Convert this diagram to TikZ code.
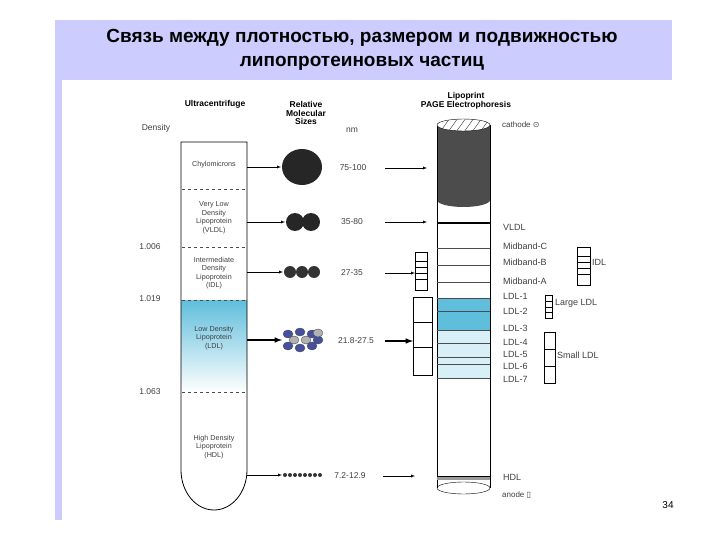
\documentclass[tikz,border=0pt]{standalone}
\usepackage{fontspec}
\setmainfont{Liberation Sans}
\newfontfamily\symfont{DejaVu Sans}
\begin{document}
\begin{tikzpicture}[x=1pt,y=-1pt,
 lbl/.style={font=\fontsize{7}{8}\selectfont,text=black!75,inner sep=0pt},
 tl/.style={font=\fontsize{7.2}{8.5}\selectfont,text=black!75,inner sep=0pt,align=center},
 rl/.style={font=\fontsize{9}{10}\selectfont,text=black!75,inner sep=0pt,anchor=west},
 nl/.style={font=\fontsize{8.5}{9}\selectfont,text=black!75,inner sep=0pt},
 hdr/.style={font=\bfseries\fontsize{8.5}{8.5}\selectfont,align=center,inner sep=0pt},
 arr/.style={->,>=latex,thin},
 band/.style={black!70,thin},
 dline/.style={dashed,thick,black!70}]
\definecolor{lav}{RGB}{204,204,255}
\definecolor{ldlblue}{RGB}{95,190,220}
\definecolor{ldllight}{RGB}{215,240,248}
\definecolor{dotblue}{RGB}{70,80,160}
\useasboundingbox (0,0) rectangle (720,540);
\fill[white] (0,0) rectangle (720,540);
\fill[lav] (55,20) rectangle (672,80);
\fill[lav] (55,80) rectangle (62,520);
\node[font=\bfseries\fontsize{19}{24}\selectfont,align=center] (title) at (362,50) {Связь между плотностью, размером и подвижностью\\липопротеиновых частиц};
\node[font=\fontsize{10}{10}\selectfont] (pg) at (668,505) {34};
\node[hdr] (h1) at (215,104) {Ultracentrifuge};
\node[hdr] (h2) at (306,113) {Relative\\Molecular\\Sizes};
\node[nl] (nm) at (352,130) {nm};
\node[nl] (dens) at (156,128) {Density};
\node[hdr] (h3) at (466,101) {Lipoprint\\PAGE Electrophoresis};
\shade[top color=ldlblue,bottom color=white] (181,300) rectangle (247,392);
\draw[thick] (181,142) -- (247,142) -- (247,470) arc (0:180:33 and 40) -- cycle;
\foreach \y in {189,247,300,392} \draw[dline] (182,\y) -- (246,\y);
\node[tl] (chy) at (214,165) {Chylomicrons};
\node[tl] (vl) at (214,218) {Very Low\\Density\\Lipoprotein\\(VLDL)};
\node[tl] (il) at (214,273) {Intermediate\\Density\\Lipoprotein\\(IDL)};
\node[tl] (ll) at (214,338) {Low Density\\Lipoprotein\\(LDL)};
\node[tl] (hl) at (214,447) {High Density\\Lipoprotein\\(HDL)};
\node[nl] (d1) at (150,247) {1.006};
\node[nl] (d2) at (150,299) {1.019};
\node[nl] (d3) at (150,392) {1.063};
\fill[black!85] (302,167) ellipse (20 and 18);
\fill[black!85] (295,222) circle (9) (311,222) circle (9);
\fill[black!80] (290,272) circle (6) (302,272) circle (6) (314,272) circle (6);
\foreach \x/\y/\c in {288/334/dotblue,300/332/dotblue,312/334/dotblue,294/340/black!30,306/340/black!30,318/340/dotblue,288/346/dotblue,300/348/dotblue,312/346/dotblue,318/333/black!30}
  \filldraw[fill=\c,draw=black!70,thin] (\x,\y) ellipse (5 and 4);
\foreach \x in {285,290,...,320} \fill[black!80] (\x,475) circle (2);
\coordinate (p1) at (281,167); \coordinate (p2) at (285,222); \coordinate (p3) at (283,272);
\coordinate (p4) at (282,340); \coordinate (p5) at (282,475);
\coordinate (t1) at (247,167); \coordinate (t2) at (247,222); \coordinate (t3) at (247,272);
\coordinate (t4) at (247,340); \coordinate (t5) at (247,475);
\draw[arr] (t1) -- (p1); \draw[arr] (t2) -- (p2); \draw[arr] (t3) -- (p3);
\draw[arr,line width=1.5pt] (t4) -- (p4); \draw[arr] (t5) -- (p5);
\node[nl] (n1) at (353,168) {75-100};
\node[nl] (n2) at (352,222) {35-80};
\node[nl] (n3) at (352,273) {27-35};
\node[nl] (n4) at (356,341) {21.8-27.5};
\node[nl] (n5) at (350,476) {7.2-12.9};
\coordinate (q1) at (427,168); \coordinate (q2) at (427,222);
\coordinate (q5) at (415,476);
\draw[arr] (385,168) -- (q1); \draw[arr] (385,222) -- (q2);
\draw[arr] (383,476) -- (q5);
\draw (415,252) rectangle (427,290);
\foreach \y in {261,267,273,279} \draw[thin] (415,\y) -- (427,\y);
\draw[arr] (385,273) -- (415,273);
\draw[thick] (413,297) rectangle (432,375);
\draw[thick] (413,322) -- (432,322) (413,347) -- (432,347);
\draw[arr,line width=1.5pt] (385,341) -- (413,341);
\fill[ldlblue] (437,298) rectangle (490,330);
\fill[ldllight] (437,330) rectangle (490,378);
\fill[black!70] (437,125) -- (437,200) arc (180:0:26.5 and 7) -- (490,125) -- cycle;
\draw (437,125) -- (437,488) (490,125) -- (490,488);
\filldraw[fill=white] (463.5,125) ellipse (26.5 and 6);
\begin{scope}
\clip (463.5,125) ellipse (26.5 and 6);
\foreach \x in {440,448,...,492} \draw[black!80] (\x,132) -- (\x+10,118);
\end{scope}
\draw[very thick] (437,223) -- (490,223);
\foreach \y in {248,265,282,298,311,330,343,357,364,378} \draw[band] (437,\y) -- (490,\y);
\fill[black!40] (437,476) rectangle (490,480);
\draw (437,476) -- (490,476);
\draw (463.5,488) ellipse (26.5 and 6);
\node[lbl,anchor=west,font=\fontsize{8}{9}\selectfont] (ca) at (502,125) {cathode {\symfont ⊙}};
\node[rl] (r0) at (503,227) {VLDL};
\node[rl] (r1) at (503,246) {Midband-C};
\node[rl] (r2) at (503,262) {Midband-B};
\node[rl] (r3) at (503,281) {Midband-A};
\foreach \i/\y in {1/296,2/311,3/328,4/342,5/354,6/366,7/379}
  \node[rl] (L\i) at (503,\y) {LDL-\i};
\node[rl] (rh) at (503,477) {HDL};
\node[lbl,anchor=west,font=\fontsize{8}{9}\selectfont] (an) at (502,495) {anode {\symfont ▯}};
\draw (577,247) rectangle (590,285);
\foreach \y in {256,262,268,274} \draw[thin] (577,\y) -- (590,\y);
\node[rl] (idl) at (592,262) {IDL};
\draw (545,295) rectangle (552,318);
\foreach \y in {301,307,312} \draw[thin] (545,\y) -- (552,\y);
\node[rl] (lg) at (555,303) {Large LDL};
\draw (544,332) rectangle (555,383);
\draw[thick] (544,349) -- (555,349) (544,366) -- (555,366);
\node[rl] (sm) at (557,355) {Small LDL};
\end{tikzpicture}
\end{document}
